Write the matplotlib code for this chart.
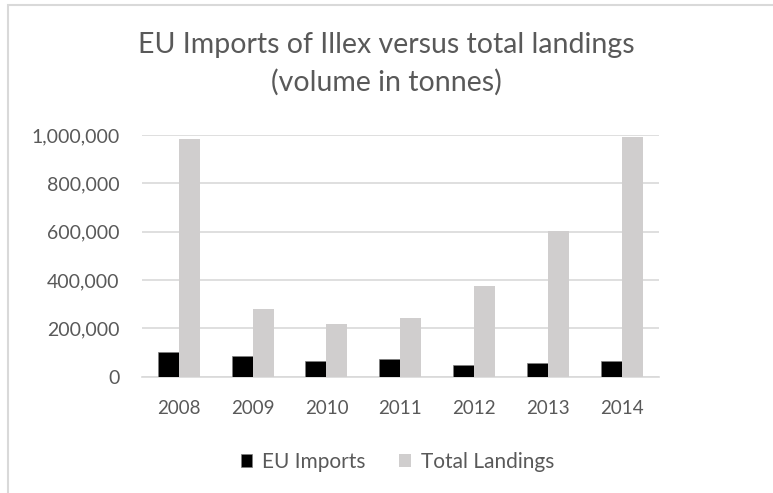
import matplotlib.pyplot as plt
import numpy as np
from matplotlib.patches import Rectangle
from matplotlib.ticker import FuncFormatter

years = ["2008", "2009", "2010", "2011", "2012", "2013", "2014"]
eu_imports = [101000, 86000, 65000, 72000, 48000, 55000, 65000]
total_landings = [982000, 279000, 218000, 242000, 375000, 603000, 990000]

TEXT = "#595959"
GRID = "#d9d9d9"

plt.rcParams["font.family"] = ["Lato", "DejaVu Sans"]

fig = plt.figure(figsize=(7.73, 4.93), dpi=100)

# chart frame, running off the right and bottom edges
fig.patches.append(
    Rectangle((8 / 773, -0.1), 1.2, 1 - 5 / 493 + 0.1, transform=fig.transFigure,
              fill=False, edgecolor="#d9d9d9", linewidth=1.5)
)

ax = fig.add_axes([141.7 / 773, 1 - 376.7 / 493, (659 - 141.7) / 773, (376.7 - 135) / 493])

x = np.arange(len(years))
w = 0.284
ax.bar(x - w / 2, eu_imports, w, color="black", edgecolor="#7f7f7f", linewidth=0.5,
       label="EU Imports", zorder=3)
ax.bar(x + w / 2, total_landings, w, color="#d0cece", label="Total Landings", zorder=3)

ax.set_xlim(-0.5, len(years) - 0.5)
ax.set_ylim(0, 1000000)
ax.set_yticks(range(0, 1000001, 200000))
ax.yaxis.set_major_formatter(FuncFormatter(lambda v, _: f"{int(v):,}"))
ax.set_xticks(x)
ax.set_xticklabels(years)

ax.grid(axis="y", color=GRID, linewidth=1.2, zorder=0)
for side in ["top", "right", "left"]:
    ax.spines[side].set_visible(False)
ax.spines["bottom"].set_color(GRID)
ax.spines["bottom"].set_linewidth(1.2)
ax.tick_params(axis="y", length=0, labelsize=14, colors=TEXT, pad=16)
ax.tick_params(axis="x", length=0, labelsize=13.5, colors=TEXT, pad=17)

fig.text(0.5, 1 - 64 / 493, "EU Imports of Illex versus total landings\n(volume in tonnes)",
         ha="center", va="center", fontsize=20.5, color=TEXT, linespacing=1.5)

fig.legend(loc="center", bbox_to_anchor=(0.5 + 11 / 773, 1 - 462 / 493), ncol=2,
           frameon=False, fontsize=15, labelcolor=TEXT, handlelength=0.55,
           handleheight=0.55, handletextpad=0.5, columnspacing=1.6)

fig.savefig("out.png", dpi=100)
